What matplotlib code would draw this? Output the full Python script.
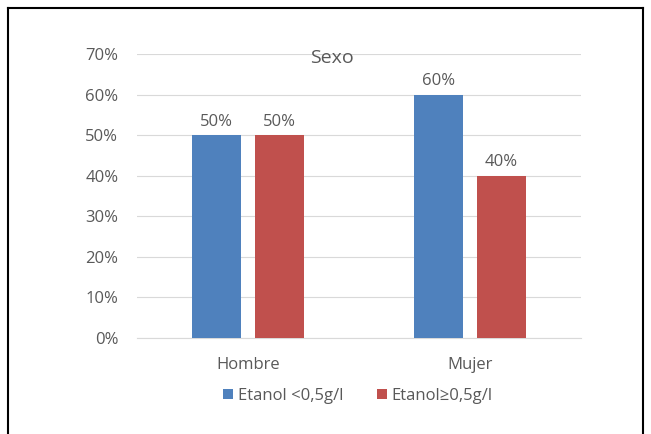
import matplotlib
matplotlib.use("Agg")
import matplotlib.pyplot as plt
import numpy as np
from matplotlib.lines import Line2D
from matplotlib.ticker import FuncFormatter, MultipleLocator

categories = ["Hombre", "Mujer"]
series_names = ["Etanol <0,5g/l", "Etanol\u22650,5g/l"]
low = [50, 60]
high = [50, 40]
colors = ["#4F81BD", "#C0504D"]
text_color = "#595959"

plt.rcParams['font.family'] = ['Open Sans', 'DejaVu Sans']

fig = plt.figure(figsize=(6.51, 4.34), dpi=100)
W, H = 651, 434
ax = fig.add_axes([137 / W, 1 - 338 / H, (581 - 137) / W, (338 - 54) / H])

x = np.arange(len(categories))
bw = 0.225
off = 0.142
b1 = ax.bar(x - off, low, bw, color=colors[0], label=series_names[0], zorder=3)
b2 = ax.bar(x + off, high, bw, color=colors[1], label=series_names[1], zorder=3)
for bars in (b1, b2):
    for r in bars:
        ax.text(r.get_x() + r.get_width() / 2, r.get_height() + 1.3, f"{r.get_height():.0f}%",
                ha="center", va="bottom", fontsize=12, color=text_color)

ax.set_xlim(-0.5, 1.5)
ax.set_ylim(0, 70)
ax.yaxis.set_major_locator(MultipleLocator(10))
ax.yaxis.set_major_formatter(FuncFormatter(lambda v, p: f"{v:.0f}%"))
ax.set_xticks(x)
ax.set_xticklabels(categories)
ax.tick_params(axis="both", length=0, labelsize=12, colors=text_color)
ax.tick_params(axis="y", pad=13.5)
ax.tick_params(axis="x", pad=14)
ax.grid(axis="y", color="#D9D9D9", linewidth=0.8, zorder=0)
for s in ["top", "right", "left"]:
    ax.spines[s].set_visible(False)
ax.spines["bottom"].set_color("#D9D9D9")

fig.text(332 / W, 1 - 58 / H, "Sexo", ha="center", va="center", fontsize=14, color=text_color)

leg = fig.legend(handles=[b1, b2], labels=series_names, loc="center", bbox_to_anchor=(358 / W, 1 - 396 / H),
                 ncol=2, frameon=False, fontsize=12, handlelength=0.6, handleheight=0.6,
                 handletextpad=0.3, columnspacing=2.0)
for t in leg.get_texts():
    t.set_color(text_color)

# outer border
fig.add_artist(Line2D([8 / W, 643 / W], [1 - 8 / H, 1 - 8 / H], transform=fig.transFigure, color="black", lw=1.5))
fig.add_artist(Line2D([8 / W, 8 / W], [1 - 8 / H, 0], transform=fig.transFigure, color="black", lw=1.5))
fig.add_artist(Line2D([643 / W, 643 / W], [1 - 8 / H, 0], transform=fig.transFigure, color="black", lw=1.5))

fig.savefig("out.png", dpi=100)
